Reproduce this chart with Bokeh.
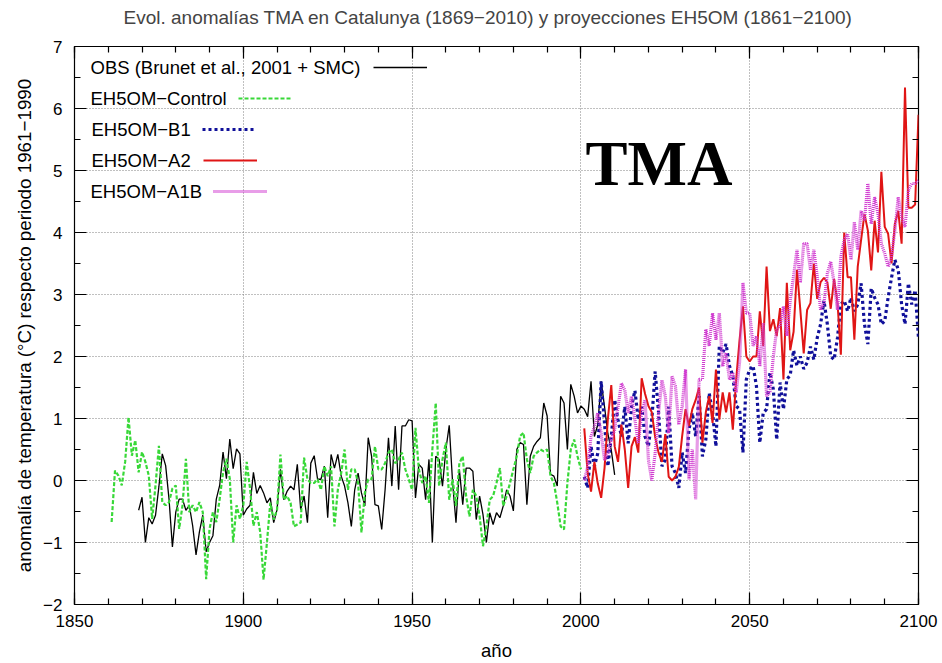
from bokeh.plotting import figure
from bokeh.models import (Range1d, LinearAxis, Label, Legend, LegendItem, FixedTicker,
                          CustomLabelingPolicy)
from bokeh.embed import file_html
from bokeh.resources import INLINE

# ---------------- data ----------------
obs_start = 1869
obs_values = [
    -0.48, -0.27, -1.0, -0.6, -0.7, -0.56, -0.1, 0.43, 0.24, -0.3,      # 1869-1878
    -1.07, -0.51, -0.3, -0.3, -0.48, -0.4, -0.73, -1.2, -0.83, -0.56,   # 1879-1888
    -1.15, -1.0, -0.89, -0.3, -0.08, 0.46, 0.03, 0.67, 0.19, 0.51,      # 1889-1898
    0.43, -0.56, -0.46, -0.4, 0.13, -0.21, -0.08, -0.2, -0.36, -0.28,   # 1899-1908
    -0.68, -0.47, 0.18, -0.31, -0.17, -0.09, -0.15, 0.26, -0.47, -0.25, # 1909-1918
    -0.68, 0.28, 0.4, 0.02, 0.02, 0.23, -0.6, 0.42, 0.2, 0.42,          # 1919-1928
    0.07, -0.09, -0.36, -0.74, -0.15, 0.12, -0.2, -0.41, 0.69, 0.39,    # 1929-1938
    -0.39, -0.41, -0.79, -0.15, 0.69, -0.09, 0.88, -0.15, 0.88, 0.88,   # 1939-1948
    0.98, 0.96, -0.28, 0.26, 0.2, -0.31, 0.34, -1.0, 0.39, 0.34,        # 1949-1958
    -0.09, 0.5, 0.89, -0.04, -0.68, 0.18, -0.39, 0.2, 0.2, 0.15,        # 1959-1968
    -0.63, -0.25, -0.55, -1.0, -0.52, -0.71, -0.52, -0.6, -0.41, -0.15, # 1969-1978
    -0.25, -0.49, 0.5, 0.61, 0.58, -0.39, 0.39, 0.55, 0.63, 0.69,       # 1979-1988
    1.25, 1.04, 0.1, 0.07, -0.09, 1.36, 1.25, 0.5, 1.55, 1.36,          # 1989-1998
    1.09, 1.2, 1.15, 1.03, 1.6, 0.71, 0.9, 1.6, 1.19, 0.75,             # 1999-2008
    0.49, 0.09,                                                          # 2009-2010
]

control_start = 1861
control_values = [
    -0.67, 0.16, 0.08, -0.08, 0.3, 1.02, 0.4, 0.65, 0.13, 0.46,         # 1861-1870
    0.3, 0.08, -0.62, -0.08, 0.56, -0.35, -0.4, -0.35, -0.13, -0.08,    # 1871-1880
    -0.78, -0.4, 0.35, -0.51, -0.4, -0.51, -0.35, -0.51, -1.59, -0.78,  # 1881-1890
    -0.51, -0.67, -0.3, 0.13, 0.35, 0.03, -1.0, -0.4, -0.62, -0.4,      # 1891-1900
    0.3, -0.13, -0.73, -0.51, -0.83, -1.6, -1.0, -0.36, -0.63, -0.47,   # 1901-1910
    0.42, -0.31, -0.25, -0.36, -0.74, -0.71, -0.68, 0.37, 0.02, -0.04,  # 1911-1920
    -0.04, 0.02, -0.15, 0.23, 0.07, 0.23, -0.74, -0.15, 0.12, 0.5,      # 1921-1930
    -0.15, 0.18, 0.18, -0.04, -0.84, -0.2, 0.02, 0.02, 0.55, 0.18,      # 1931-1940
    0.18, 0.28, 0.45, 0.5, 0.28, 0.34, 0.45, 0.18, 0.02, -0.15,         # 1941-1950
    0.85, 0.18, -0.04, 0.07, -0.36, 0.5, 1.25, -0.09, 0.34, 0.61,       # 1951-1960
    -0.31, 0.02, -0.41, 0.28, 0.39, -0.25, -0.58, -0.15, -0.25, -0.58,  # 1961-1970
    -1.06, -0.74, -0.31, -0.25, -0.04, 0.2, -0.41, -0.25, -0.04, 0.18,  # 1971-1980
    0.39, 0.72, 0.77, 0.34, 0.12, 0.39, 0.45, 0.5, 0.47, 0.5,           # 1981-1990
    0.07, -0.04, -0.36, -0.74, -0.79, -0.04, 0.5, 0.66, 0.39, 0.18,     # 1991-2000
]

scen_start = 2001
b1_values = [
    0.06, -0.12, 0.55, 0.23, 0.44, 1.6, 0.92, 0.23, 0.71, 1.3,          # 2001-2010
    0.98, 0.71, 1.19, 0.6, 1.19, 1.45, 0.98, 1.19, 0.71, 0.55,          # 2011-2020
    0.98, 1.76, 1.1, 0.23, 0.33, 1.19, 0.23, 0.12, -0.12, 0.45,         # 2021-2030
    0.12, 0.82, 1.09, 0.71, 1.36, 0.39, 0.66, 1.41, 1.09, 0.55,         # 2031-2040
    2.17, 2.06, 2.2, 1.85, 1.69, 1.2, 1.15, 0.45, 1.63, 1.79,           # 2041-2050
    1.85, 1.52, 0.61, 1.09, 1.15, 1.74, 1.47, 0.66, 1.58, 1.15,         # 2051-2060
    1.63, 1.7, 2.1, 1.85, 2.0, 1.8, 1.9, 2.16, 1.95, 2.3,               # 2061-2070
    2.52, 2.9, 2.52, 2.0, 1.95, 2.3, 2.84, 2.9, 2.73, 2.95,             # 2071-2080
    2.73, 2.84, 3.18, 2.52, 2.2, 3.1, 2.95, 2.84, 2.52, 2.57,           # 2081-2090
    2.95, 3.27, 3.56, 3.4, 2.84, 2.52, 3.18, 2.84, 3.07, 2.3,           # 2091-2100
]
a2_values = [
    0.84, 0.12, -0.18, 0.3, -0.05, -0.28, 0.2, 1.0, 1.54, 0.55,         # 2001-2010
    0.3, 0.9, 0.5, -0.12, 0.55, 0.7, 0.45, 1.65, 1.4, 1.2,              # 2011-2020
    1.1, 0.7, 0.45, 0.3, 0.75, 0.06, 0.0, 0.06, 0.22, 0.72,             # 2021-2030
    1.15, 0.88, 1.15, 1.3, 1.5, 0.61, 1.1, 1.36, 0.93, 1.79,            # 2031-2040
    0.98, 1.42, 1.1, 1.42, 0.82, 1.63, 2.27, 2.81, 2.0, 1.92,           # 2041-2050
    2.0, 2.0, 2.73, 2.17, 3.45, 2.41, 2.6, 2.33, 2.78, 1.63,            # 2051-2060
    3.19, 2.1, 2.4, 3.4, 2.75, 2.05, 2.75, 2.86, 3.5, 2.93,             # 2061-2070
    3.2, 3.27, 3.2, 2.77, 3.25, 2.87, 2.03, 4.0, 3.28, 3.28,            # 2071-2080
    2.27, 3.45, 3.88, 4.3, 4.03, 3.39, 4.19, 3.68, 4.98, 4.09,          # 2081-2090
    3.98, 3.5, 4.14, 4.35, 3.82, 6.34, 4.4, 4.4, 4.45, 5.9,             # 2091-2100
]
a1b_values = [
    0.0, 0.22, 0.71, 0.87, 1.09, 0.76, 0.33, 0.44, 0.66, 0.82,          # 2001-2010
    1.19, 1.57, 1.46, 1.09, 1.36, 0.98, 0.6, 1.09, 1.3, 0.33,           # 2011-2020
    0.0, 0.44, 1.09, 1.62, 1.36, 0.76, 1.68, 1.52, 0.9, 1.2,            # 2021-2030
    1.79, 0.02, 0.5, -0.3, 1.63, 1.63, 2.44, 2.17, 2.7, 2.27,           # 2031-2040
    2.7, 1.84, 2.06, 1.63, 1.74, 1.42, 1.9, 3.19, 2.7, 2.7,             # 2041-2050
    2.17, 2.33, 1.84, 2.54, 1.36, 1.42, 2.0, 2.44, 2.49, 2.81,          # 2051-2060
    2.33, 2.9, 3.3, 3.72, 3.19, 3.82, 3.82, 3.4, 3.72, 3.29,            # 2061-2070
    2.75, 2.86, 3.34, 3.53, 3.19, 2.75, 3.61, 3.88, 3.98, 3.56,         # 2071-2080
    4.17, 3.72, 4.35, 4.2, 4.79, 4.14, 4.57, 4.3, 3.82, 3.66,           # 2081-2090
    3.45, 3.61, 4.03, 4.57, 4.25, 4.09, 4.68, 4.79, 4.79, 4.84,         # 2091-2100
]

obs_years = list(range(obs_start, obs_start + len(obs_values)))
control_years = list(range(control_start, control_start + len(control_values)))
scen_years = list(range(scen_start, scen_start + len(a2_values)))

title_text = "Evol. anomalías TMA en Catalunya (1869\u22122010) y proyecciones EH5OM (1861\u22122100)"
series_labels = ["OBS (Brunet et al., 2001 + SMC)", "EH5OM\u2212Control",
                 "EH5OM\u2212B1", "EH5OM\u2212A2", "EH5OM\u2212A1B"]

x_ticks = [1850, 1900, 1950, 2000, 2050, 2100]
x_minor = list(range(1850, 2101, 10))
y_ticks = [-2, -1, 0, 1, 2, 3, 4, 5, 6, 7]
y_minor = [v / 2 for v in range(-4, 15)]

# ---------------- figure ----------------
FONT = "Liberation Sans"
W, H = 942, 663
FL, FR, FT, FB = 74, 918, 46, 605
TXT = "18.5px"

p = figure(width=W, height=H, output_backend="svg", toolbar_location=None,
           x_range=Range1d(1850, 2100), y_range=Range1d(-2, 7),
           min_border_left=FL, min_border_right=W - FR,
           min_border_top=FT, min_border_bottom=H - FB,
           x_axis_label="año",
           y_axis_label="anomalía de temperatura (°C) respecto periodo 1961\u22121990")

p.title.text = title_text
p.title.text_font = FONT
p.title.text_font_size = "19px"
p.title.text_font_style = "normal"
p.title.align = "left"
p.title.offset = 49
p.title.vertical_align = "top"
p.title.standoff = 12

p.outline_line_color = "black"
p.outline_line_width = 1.2
p.outline_line_alpha = 1.0
p.background_fill_color = "white"
p.border_fill_color = "white"

xt = FixedTicker(ticks=x_ticks, minor_ticks=x_minor)
yt = FixedTicker(ticks=y_ticks, minor_ticks=y_minor)


def style_axis(ax, show_labels):
    ax.axis_line_color = None
    ax.major_tick_in = 12
    ax.major_tick_out = 0
    ax.minor_tick_in = 6
    ax.minor_tick_out = 0
    ax.major_tick_line_color = "black"
    ax.minor_tick_line_color = "black"
    ax.major_tick_line_width = 1.2
    ax.minor_tick_line_width = 1.2
    if show_labels:
        ax.major_label_text_font = FONT
        ax.major_label_text_font_size = "17px"
        ax.major_label_text_color = "black"
        ax.axis_label_text_font = FONT
        ax.axis_label_text_font_size = TXT
        ax.axis_label_text_font_style = "normal"
        ax.axis_label_text_color = "black"
    else:
        # mirrored tick marks only: drop every tick label
        ax.major_label_policy = CustomLabelingPolicy(
            code="for (const i of indices) { indices.unset(i) }\nreturn indices")
        ax.major_label_standoff = 0


p.xaxis.ticker = xt
p.yaxis.ticker = yt
style_axis(p.xaxis[0], True)
style_axis(p.yaxis[0], True)
p.xaxis.major_label_standoff = 10
p.xaxis.axis_label_standoff = 10
p.yaxis.major_label_standoff = 12
p.yaxis.axis_label_standoff = 5
p.yaxis.axis_label_text_font_size = "18.8px"
p.yaxis.major_label_overrides = {-2: "\u22122", -1: "\u22121"}

top_ax = LinearAxis(ticker=xt)
style_axis(top_ax, False)
p.add_layout(top_ax, "above")
right_ax = LinearAxis(ticker=yt)
style_axis(right_ax, False)
p.add_layout(right_ax, "right")

for g, t in ((p.xgrid, xt), (p.ygrid, yt)):
    g.ticker = t
    g.grid_line_color = "#808080"
    g.grid_line_dash = "1 2"
    g.grid_line_width = 1

# ---------------- series ----------------
r_obs = p.line(obs_years, obs_values, line_color="black", line_width=1.3)
r_ctl = p.line(control_years, control_values, line_color="#38d838", line_width=2.2,
               line_dash="4 2")
r_b1 = p.line(scen_years, b1_values, line_color="#10109a", line_width=3.2,
              line_dash="3 3")
r_a2 = p.line(scen_years, a2_values, line_color="#e01515", line_width=2)
r_a1b = p.line(scen_years, a1b_values, line_color="#d03ad0", line_width=3.2,
               line_dash="1 1")
renderers = [r_obs, r_ctl, r_b1, r_a2, r_a1b]

# ---------------- legend (text first, then sample, gnuplot style) ----------------
legend_text_x = [90, 90, 91, 91, 90]
legend_row_y = [68, 99, 130, 161, 192]
legend_sample_x = [373, 238, 202, 203, 213]
sample_w = 54
for lab, tx, ry, sx, r in zip(series_labels, legend_text_x, legend_row_y,
                              legend_sample_x, renderers):
    p.add_layout(Label(x=tx - FL, y=FB - ry, x_units="screen", y_units="screen",
                       text=lab, text_font=FONT, text_font_size=TXT,
                       text_baseline="middle", text_align="left", text_color="black"))
    lg = Legend(items=[LegendItem(label=" ", renderers=[r])],
                location=(sx - FL, FB - ry - 5),
                padding=0, margin=0, spacing=0,
                glyph_width=sample_w, glyph_height=10,
                label_standoff=0, label_width=0, label_height=10,
                label_text_font_size="1px",
                border_line_color=None, background_fill_alpha=0,
                inactive_fill_alpha=0)
    p.add_layout(lg, "center")

p.add_layout(Label(x=585 - FL, y=FB - 164, x_units="screen", y_units="screen",
                   text="TMA", text_font="Liberation Serif", text_font_style="bold",
                   text_font_size="63px", text_baseline="alphabetic",
                   text_color="black"))

open("out.html", "w").write(file_html(p, INLINE))
